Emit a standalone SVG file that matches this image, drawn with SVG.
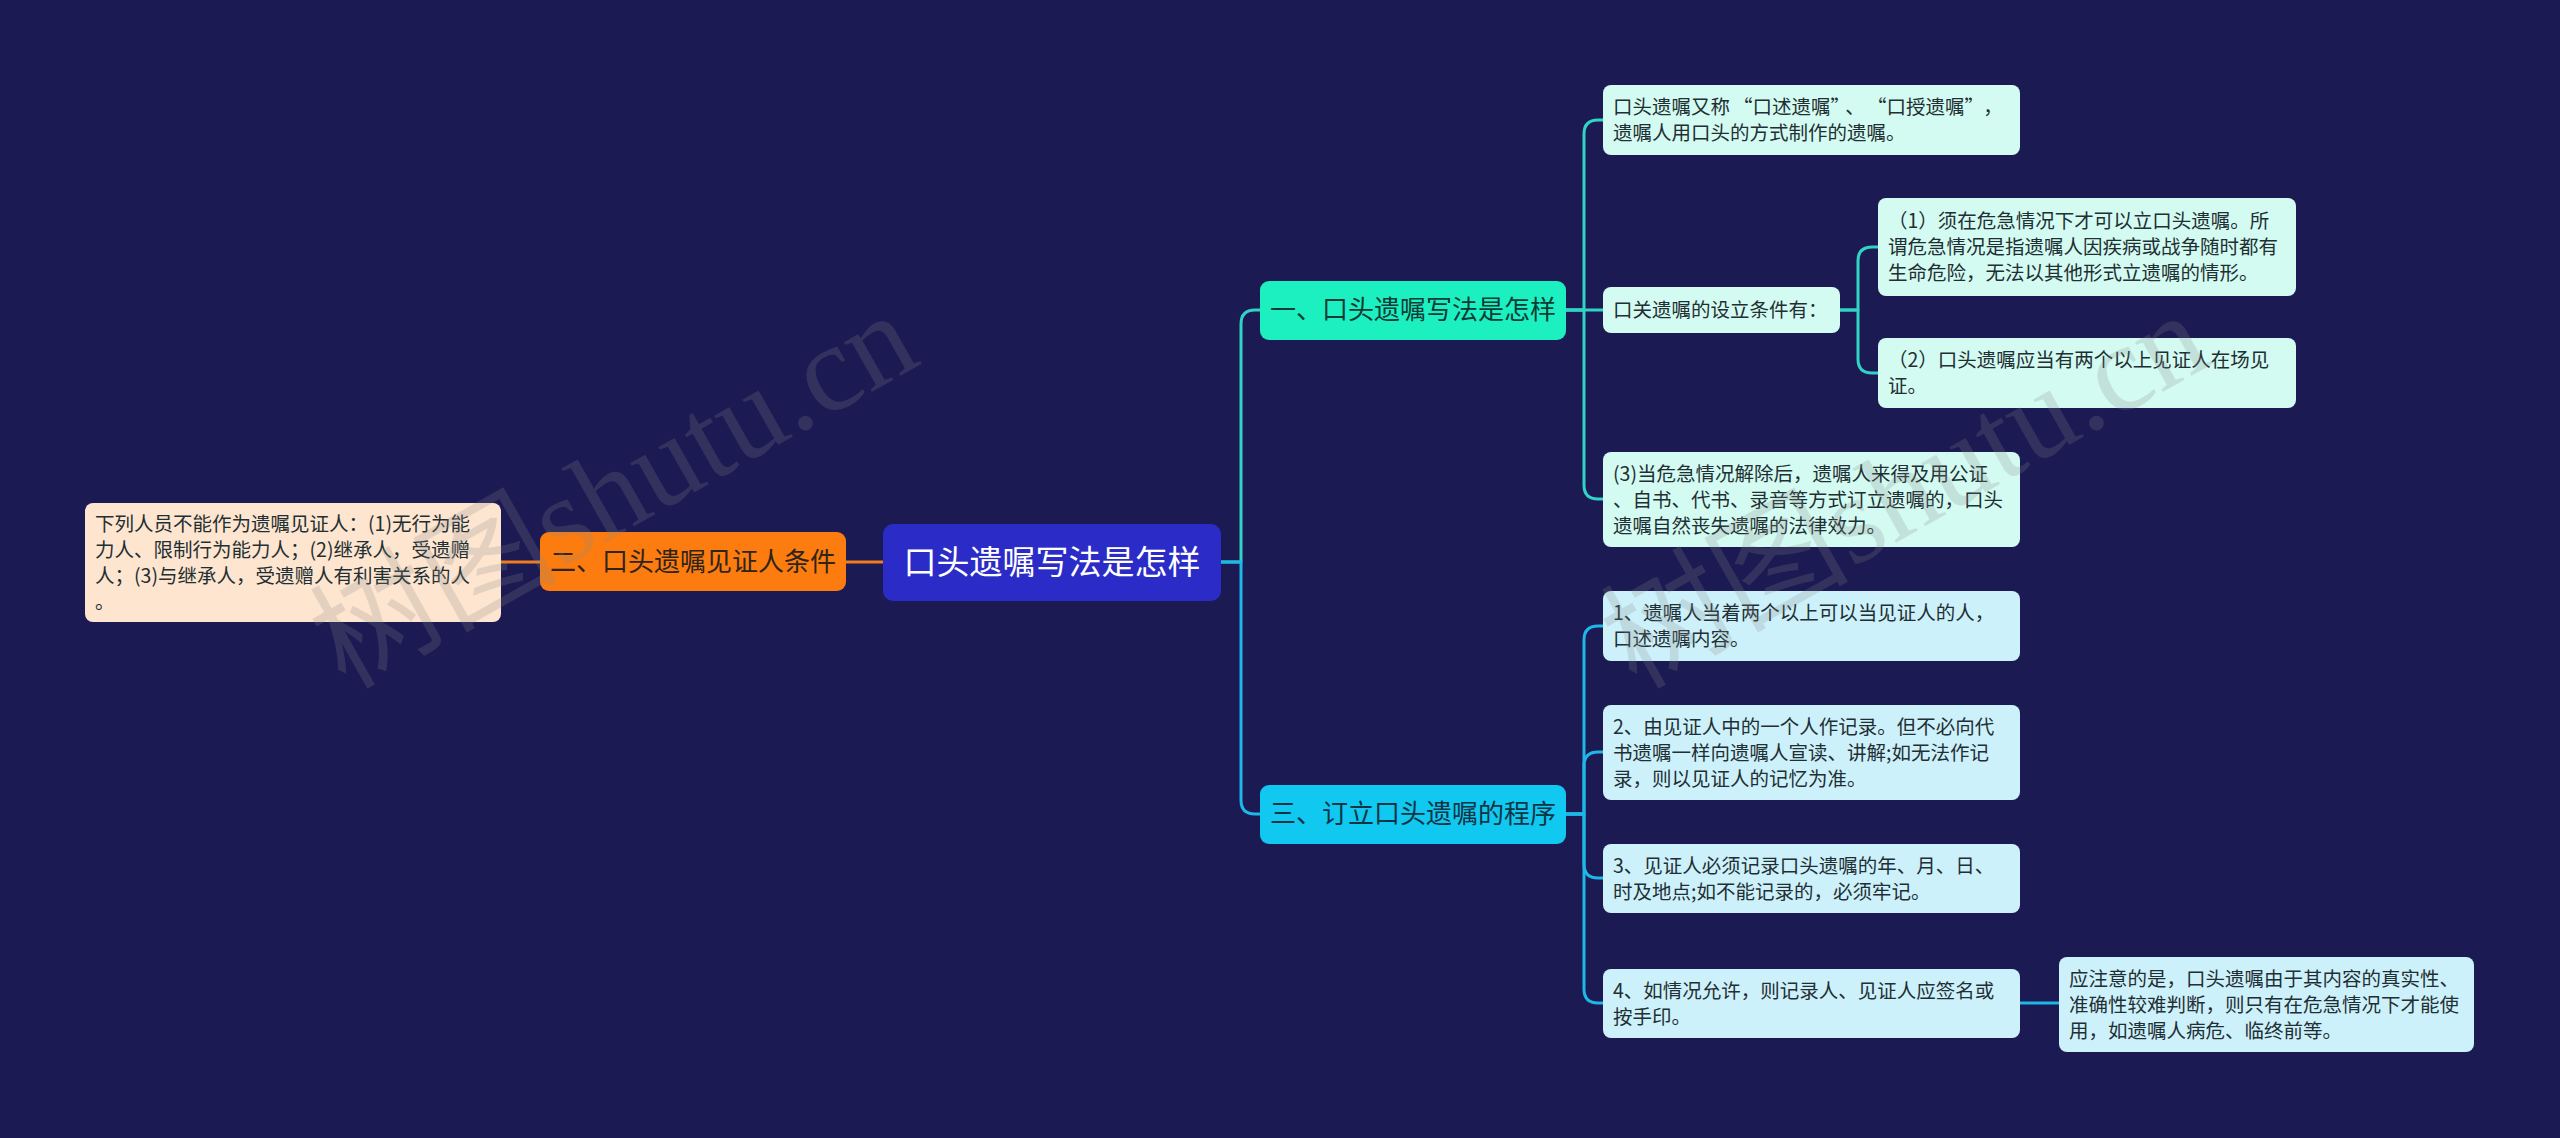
<svg xmlns="http://www.w3.org/2000/svg" width="2560" height="1138" viewBox="0 0 2560 1138">
<style>
text{font-family:"Noto Sans CJK SC","Noto Sans",sans-serif;}
.leaf{font-size:19.5px;fill:#1f2f33;}
.l1{font-size:26px;text-anchor:middle;}
.c{fill:none;stroke-width:3;stroke-linecap:round;stroke-linejoin:round;}
.teal{stroke:#30d3c4;}
.blue{stroke:#1fb6e8;}
.orange{stroke:#f07d1e;}
.mint{fill:#d3fbf1;}
.sky{fill:#cdf1fb;}
.wm{font-family:"Liberation Serif","Noto Sans CJK SC",serif;font-size:124px;fill:#8a8a8a;opacity:0.22;}
</style>
<rect width="2560" height="1138" fill="#1b1a52"/>
<g id="connectors">
<path class="c teal" d="M1221,562 H1241 V324 Q1241,310 1255,310 H1260"/>
<path class="c blue" d="M1221,562 H1241 V800 Q1241,814 1255,814 H1260"/>
<path class="c orange" d="M883,562 H846"/>
<path class="c orange" d="M540,562 H501"/>
<path class="c teal" d="M1566,310 H1584 V134 Q1584,120 1598,120 H1603"/>
<path class="c teal" d="M1566,310 H1603"/>
<path class="c teal" d="M1566,310 H1584 V485 Q1584,499 1598,499 H1603"/>
<path class="c teal" d="M1840,310 H1858 V261 Q1858,247 1872,247 H1878"/>
<path class="c teal" d="M1840,310 H1858 V359 Q1858,373 1872,373 H1878"/>
<path class="c blue" d="M1566,814 H1584 V640 Q1584,626 1598,626 H1603"/>
<path class="c blue" d="M1566,814 H1584 V766 Q1584,752 1598,752 H1603"/>
<path class="c blue" d="M1566,814 H1584 V864 Q1584,878 1598,878 H1603"/>
<path class="c blue" d="M1566,814 H1584 V989 Q1584,1003 1598,1003 H1603"/>
<path class="c blue" d="M2020,1003 H2059"/>
</g>
<g id="root">
<rect x="883" y="524" width="338" height="77" rx="10" fill="#2b2cc7"/>
<text x="1052" y="574" font-size="33" fill="#ffffff" text-anchor="middle">口头遗嘱写法是怎样</text>
</g>
<g id="n1">
<rect x="1260" y="281" width="306" height="59" rx="9" fill="#1cf0c0"/>
<text class="l1" x="1413" y="319" fill="#0f3b36">一、口头遗嘱写法是怎样</text>
</g>
<g id="n3">
<rect x="1260" y="785" width="306" height="59" rx="9" fill="#10c8f0"/>
<text class="l1" x="1413" y="823" fill="#0f3443">三、订立口头遗嘱的程序</text>
</g>
<g id="n2">
<rect x="540" y="532" width="306" height="59" rx="9" fill="#fc7c10"/>
<text class="l1" x="693" y="571" fill="#2e2418">二、口头遗嘱见证人条件</text>
</g>
<g id="n2a">
<rect x="85" y="503" width="416" height="119" rx="8" fill="#fde5cf"/>
<text class="leaf" x="95" y="531" fill="#333">下列人员不能作为遗嘱见证人：(1)无行为能</text>
<text class="leaf" x="95" y="557" fill="#333">力人、限制行为能力人；(2)继承人，受遗赠</text>
<text class="leaf" x="95" y="583" fill="#333">人；(3)与继承人，受遗赠人有利害关系的人</text>
<text class="leaf" x="95" y="609" fill="#333">。</text>
</g>
<g id="n1a">
<rect class="mint" x="1603" y="85" width="417" height="70" rx="8"/>
<text class="leaf" x="1613" y="114">口头遗嘱又称<tspan dx="3">“</tspan>口述遗嘱”<tspan dx="5">、</tspan><tspan dx="12">“</tspan>口授遗嘱”<tspan dx="9">，</tspan></text>
<text class="leaf" x="1613" y="140">遗嘱人用口头的方式制作的遗嘱。</text>
</g>
<g id="n1b">
<rect class="mint" x="1603" y="287" width="237" height="46" rx="8"/>
<text class="leaf" x="1613" y="317">口关遗嘱的设立条件有：</text>
</g>
<g id="n1b1">
<rect class="mint" x="1878" y="198" width="418" height="98" rx="8"/>
<text class="leaf" x="1888" y="228">（1）须在危急情况下才可以立口头遗嘱。所</text>
<text class="leaf" x="1888" y="254">谓危急情况是指遗嘱人因疾病或战争随时都有</text>
<text class="leaf" x="1888" y="280">生命危险，无法以其他形式立遗嘱的情形。</text>
</g>
<g id="n1b2">
<rect class="mint" x="1878" y="338" width="418" height="70" rx="8"/>
<text class="leaf" x="1888" y="367">（2）口头遗嘱应当有两个以上见证人在场见</text>
<text class="leaf" x="1888" y="393">证。</text>
</g>
<g id="n1c">
<rect class="mint" x="1603" y="452" width="417" height="95" rx="8"/>
<text class="leaf" x="1613" y="481">(3)当危急情况解除后，遗嘱人来得及用公证</text>
<text class="leaf" x="1613" y="507">、自书、代书、录音等方式订立遗嘱的，口头</text>
<text class="leaf" x="1613" y="533">遗嘱自然丧失遗嘱的法律效力。</text>
</g>
<g id="n3a">
<rect class="sky" x="1603" y="591" width="417" height="70" rx="8"/>
<text class="leaf" x="1613" y="620">1、遗嘱人当着两个以上可以当见证人的人，</text>
<text class="leaf" x="1613" y="646">口述遗嘱内容。</text>
</g>
<g id="n3b">
<rect class="sky" x="1603" y="705" width="417" height="95" rx="8"/>
<text class="leaf" x="1613" y="734">2、由见证人中的一个人作记录。但不必向代</text>
<text class="leaf" x="1613" y="760">书遗嘱一样向遗嘱人宣读、讲解;如无法作记</text>
<text class="leaf" x="1613" y="786">录，则以见证人的记忆为准。</text>
</g>
<g id="n3c">
<rect class="sky" x="1603" y="844" width="417" height="69" rx="8"/>
<text class="leaf" x="1613" y="873">3、见证人必须记录口头遗嘱的年、月、日、</text>
<text class="leaf" x="1613" y="899">时及地点;如不能记录的，必须牢记。</text>
</g>
<g id="n3d">
<rect class="sky" x="1603" y="969" width="417" height="69" rx="8"/>
<text class="leaf" x="1613" y="998">4、如情况允许，则记录人、见证人应签名或</text>
<text class="leaf" x="1613" y="1024">按手印。</text>
</g>
<g id="n3d1">
<rect class="sky" x="2059" y="957" width="415" height="95" rx="8"/>
<text class="leaf" x="2069" y="986">应注意的是，口头遗嘱由于其内容的真实性、</text>
<text class="leaf" x="2069" y="1012">准确性较难判断，则只有在危急情况下才能使</text>
<text class="leaf" x="2069" y="1038">用，如遗嘱人病危、临终前等。</text>
</g>
<g id="watermark">
<text class="wm" transform="translate(345,690) rotate(-29.5)">树图shutu.cn</text>
<text class="wm" transform="translate(1636,690) rotate(-29.5)">树图shutu.cn</text>
</g>
</svg>
